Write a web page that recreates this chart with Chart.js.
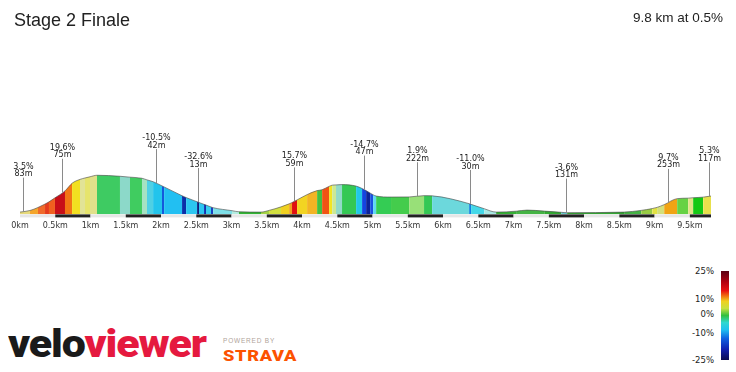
<!DOCTYPE html>
<html>
<head>
<meta charset="utf-8">
<script src="https://cdn.jsdelivr.net/npm/chart.js@4.4.1/dist/chart.umd.min.js"></script>
<style>
  html, body { margin: 0; padding: 0; background: #fff; }
  body { width: 736px; height: 372px; position: relative; overflow: hidden; font-family: "Liberation Sans", Arial, sans-serif; color: #222; }
  #profile { position: absolute; left: 0; top: 0; }
  #title { position: absolute; left: 14px; top: 11px; font-size: 18px; line-height: 18px; }
  #summary { position: absolute; right: 13px; top: 11px; font-size: 13.5px; line-height: 13.5px; }
  #scale { position: absolute; left: 721px; top: 271px; width: 8px; height: 89px;
    background: linear-gradient(to bottom, #5a0012 0%, #b00010 12%, #e81010 22%, #f07010 28%, #f0d020 34%,
      #c8e040 42%, #30c040 50%, #30d8d0 58%, #20c0f0 66%, #1060e0 76%, #1020b0 88%, #0a0a50 100%); }
  .tick { position: absolute; right: 22px; font: 8.5px "DejaVu Sans", Verdana, sans-serif; line-height: 10px; color: #222; }
  #logo { position: absolute; left: 8px; top: 325px; font-family: Roboto, "Open Sans", sans-serif; font-weight: 900;
    font-size: 39px; line-height: 38px; letter-spacing: -1px; transform: scaleX(1.1); transform-origin: 0 0; white-space: nowrap; }
  #logo .velo { color: #1a1a1a; }
  #logo .viewer { color: #e5193f; }
  #powered { position: absolute; left: 223px; top: 337px; font-size: 6.5px; letter-spacing: 0.8px; color: #b0a49a; }
  #strava { position: absolute; left: 223px; top: 349px; font-family: Roboto, sans-serif; font-size: 14px; line-height: 14px;
    font-weight: 900; letter-spacing: 0.5px; color: #fc5200; transform: scaleX(1.3); transform-origin: 0 0; white-space: nowrap; }
</style>
</head>
<body>
<canvas id="profile" width="736" height="240"></canvas>
<div id="title">Stage 2 Finale</div>
<div id="summary">9.8 km at 0.5%</div>
<div id="scale"></div>
<div class="tick" style="top:266px">25%</div>
<div class="tick" style="top:294px">10%</div>
<div class="tick" style="top:309px">0%</div>
<div class="tick" style="top:328px">-10%</div>
<div class="tick" style="top:355px">-25%</div>
<div id="logo"><span class="velo">velo</span><span class="viewer">viewer</span></div>
<div id="powered">POWERED BY</div>
<div id="strava">STRAVA</div>
<script>
// profile points (km, elevation m)
const distanceKm = [0, 0.142, 0.255, 0.355, 0.411, 0.496, 0.638, 0.738, 0.851, 0.922, 0.993, 1.092,
  1.418, 1.560, 1.730, 1.801, 1.887, 2.014, 2.043, 2.298, 2.355, 2.511, 2.539, 2.610, 2.638, 2.709,
  2.738, 3.007, 3.106, 3.418, 3.532, 3.702, 3.816, 3.858, 3.929, 4.071, 4.213, 4.284, 4.383, 4.426,
  4.482, 4.567, 4.766, 4.851, 4.908, 4.965, 5.007, 5.050, 5.262, 5.518, 5.730, 5.844, 6.369, 6.397,
  6.582, 6.752, 7.035, 7.191, 7.433, 7.674, 7.759, 8.567, 8.809, 8.965, 9.035, 9.135, 9.319, 9.475,
  9.546, 9.688, 9.8];
const elevationM = [106.9, 111.7, 120.7, 130.9, 137.5, 149.5, 170.2, 193, 204.7, 208.9, 212.5, 217,
  214, 211.3, 208, 203.2, 197.8, 185.2, 182.2, 155.8, 150.4, 137.8, 135.7, 130, 127.9, 122.2,
  120.1, 111.1, 107.8, 106.9, 112, 122.5, 131.5, 135.4, 143.2, 159.1, 171.1, 173.8, 183.7, 187.3,
  188.2, 189.1, 184.6, 177.4, 171.1, 163.9, 158.8, 154.9, 151.9, 152.2, 156.1, 155.5, 132.1, 130,
  117.1, 106.9, 109.6, 112.9, 109.9, 106.3, 105.1, 106.9, 112, 117.4, 121, 129.1, 147.1, 148.6,
  149.8, 151.6, 154.9];
// gradient colour of each stretch between two points
const segmentColors = ['#e6d97a', '#f4a52a', '#f0692a', '#e53b1c', '#f0601f', '#c80f18', '#f27514',
  '#f2e020', '#e2e396', '#e6e46c', '#e0e08a', '#3ecb62', '#8cd9c9', '#40cc60', '#a6e2c2', '#4fd0e4',
  '#22c4ec', '#1458dc', '#22bff2', '#0b2ea8', '#2cc6f0', '#0a1f80', '#2cc6f0', '#1030b0', '#38cdee',
  '#1840c0', '#7edfe8', '#b4ece0', '#32b434', '#a4d444', '#d2e040', '#f0d020', '#f0a020', '#e01010',
  '#f2d422', '#f2b424', '#44c040', '#f05414', '#f2e422', '#cce894', '#92dac8', '#34c854', '#22c8e8',
  '#1444e0', '#0c2298', '#1a50e0', '#60d8f0', '#34cc54', '#44cc4c', '#98e078', '#34c854', '#6cd8dc',
  '#1080e0', '#44d8e8', '#a8e8e4', '#34b034', '#44b444', '#44b444', '#32aa32', '#66c8cc', '#32a432',
  '#44b444', '#98cc44', '#e2e242', '#d4e07a', '#f0a414', '#66d244', '#e0e488', '#14c814', '#e8e04c'];

const tickKm = [0, 0.5, 1, 1.5, 2, 2.5, 3, 3.5, 4, 4.5, 5, 5.5, 6, 6.5, 7, 7.5, 8, 8.5, 9, 9.5];

// climb/descent callouts
const calloutKm = [0.04, 0.6, 1.93, 2.52, 3.89, 4.88, 5.63, 6.38, 7.74, 9.19, 9.77];
const calloutGrade = ['3.5%', '19.6%', '-10.5%', '-32.6%', '15.7%', '-14.7%', '1.9%', '-11.0%', '-3.6%', '9.7%', '5.3%'];
const calloutLength = ['83m', '75m', '42m', '13m', '59m', '47m', '222m', '30m', '131m', '253m', '117m'];

function elevationAt(km) {
  for (let i = 1; i < distanceKm.length; i++) {
    if (km <= distanceKm[i]) {
      const t = (km - distanceKm[i - 1]) / (distanceKm[i] - distanceKm[i - 1]);
      return elevationM[i - 1] + t * (elevationM[i] - elevationM[i - 1]);
    }
  }
  return elevationM[elevationM.length - 1];
}

const profileExtras = {
  id: 'profileExtras',
  afterDatasetsDraw(chart) {
    const {ctx, chartArea, scales: {x, y}} = chart;
    // alternating km bar along the bottom
    const edges = tickKm.concat([9.8]);
    for (let i = 0; i < edges.length - 1; i++) {
      ctx.fillStyle = i % 2 ? '#222' : '#e6e6e6';
      const x0 = x.getPixelForValue(edges[i]);
      const x1 = x.getPixelForValue(edges[i + 1]);
      ctx.fillRect(x0, chartArea.bottom, x1 - x0, 3);
    }
    // callouts
    ctx.save();
    ctx.font = '8px "DejaVu Sans", Verdana, sans-serif';
    ctx.textAlign = 'center';
    ctx.textBaseline = 'middle';
    calloutKm.forEach((km, i) => {
      const px = Math.round(x.getPixelForValue(km)) + 0.5;
      const py = y.getPixelForValue(elevationAt(km));
      ctx.strokeStyle = '#8a8a8a';
      ctx.lineWidth = 1;
      ctx.beginPath();
      ctx.moveTo(px, py - 34);
      ctx.lineTo(px, py);
      ctx.stroke();
      ctx.fillStyle = '#222';
      ctx.fillText(calloutGrade[i], px, py - 45);
      ctx.fillText(calloutLength[i], px, py - 37.5);
    });
    ctx.restore();
  }
};

new Chart(document.getElementById('profile'), {
  type: 'line',
  data: {
    datasets: [{
      data: distanceKm.map((d, i) => ({x: d, y: elevationM[i]})),
      fill: 'start',
      backgroundColor: segmentColors[0],
      borderColor: 'rgba(70,70,70,0.6)',
      borderWidth: 1,
      pointRadius: 0,
      cubicInterpolationMode: 'monotone',
      segment: {
        backgroundColor: ctx => segmentColors[ctx.p0DataIndex]
      }
    }]
  },
  options: {
    responsive: false,
    animation: false,
    layout: { padding: { left: 20, right: 25, top: 100, bottom: 2 } },
    scales: {
      x: {
        type: 'linear',
        min: 0,
        max: 9.8,
        afterBuildTicks: axis => { axis.ticks = tickKm.map(v => ({value: v})); },
        ticks: {
          callback: v => v + 'km',
          font: { family: 'DejaVu Sans', size: 8 },
          color: '#333',
          padding: 7,
          maxRotation: 0,
          autoSkip: false
        },
        grid: { display: false, drawTicks: false },
        border: { display: false }
      },
      y: { display: false, min: 100, max: 442 }
    },
    plugins: {
      legend: { display: false },
      tooltip: { enabled: false }
    }
  },
  plugins: [profileExtras]
});
</script>
</body>
</html>
